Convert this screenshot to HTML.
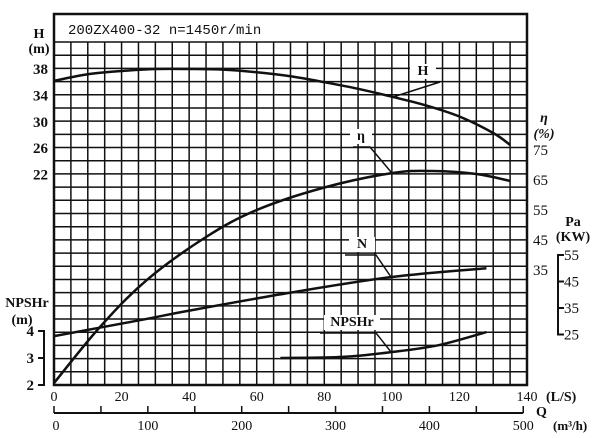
<!DOCTYPE html>
<html><head><meta charset="utf-8"><style>
body{margin:0;background:#fff}
svg text{font-family:"Liberation Serif",serif;font-weight:bold;fill:#111}
</style></head><body>
<svg width="600" height="433" viewBox="0 0 600 433">
<g id="grid"></g>
<g id="curves"></g>
<g id="labels"></g>
</svg>
<script>
const qTicks=[0,20,40,60,80,100,120,140];
const m3Ticks=[0,100,200,300,400,500];
const hTicks=[38,34,30,26,22];
const etaTicks=[75,65,55,45,35];
const paTicks=[55,45,35,25];
const npTicks=[4,3,2];
const hQ=[0,10,20,30,40,50,60,70,80,90,100,110,120,130,135];
const hVal=[36.2,37.2,37.7,38,38,37.9,37.5,36.9,36,35,33.8,32.5,30.8,28.3,26.5];
const etaQ=[0,13.6,27.5,45,60,80,100,112,125,135];
const etaVal=[-2.7,16,31.7,46,55,62.5,67.3,68,67,64.7];
const nQ=[0,25,40,70,100,128];
const nVal=[24.4,30.3,34,40.8,46.7,50];
const npQ=[67,85.5,100,114,128];
const npVal=[3.0,3.04,3.22,3.48,3.96];

const L=54,R=527,T=42,B=385,TOP=14;
const X=q=>L+q*(R-L)/140;
const YH=h=>69+(38-h)*6.6;
const YE=e=>150+(75-e)*3;
const YP=p=>255+(55-p)*2.65;
const YN=n=>385-(n-2)*27;
const NS="http://www.w3.org/2000/svg";
function mk(tag,attrs,parent,txt){const e=document.createElementNS(NS,tag);for(const k in attrs)e.setAttribute(k,attrs[k]);if(txt!=null)e.textContent=txt;parent.appendChild(e);return e;}
const g=document.getElementById('grid'),c=document.getElementById('curves'),lb=document.getElementById('labels');
for(let i=0;i<=28;i++){const x=L+i*(R-L)/28;const l=mk('line',{x1:x,y1:T,x2:x,y2:B,stroke:'#111','stroke-width':1.5},g);

}
for(let i=0;i<=26;i++){const y=T+i*(B-T)/26;const l=mk('line',{x1:L,y1:y,x2:R,y2:y,stroke:'#111','stroke-width':1.5},g);

}
const fr=mk('rect',{x:L,y:TOP,width:R-L,height:B-TOP,fill:'none',stroke:'#111','stroke-width':2.5},g);


const tb=mk('rect',{x:L+1.5,y:TOP+1.5,width:R-L-3,height:T-TOP-2.5,fill:'#fff'},g);


const tt=mk('text',{x:68,y:34,'font-size':14,style:'font-family:"Liberation Mono",monospace;font-weight:normal'},lb,'200ZX400-32  n=1450r/min');


function curve(qs,vs,yf,name){let d='';const pts=qs.map((q,i)=>[X(q),yf(vs[i])]);
d='M'+pts[0][0]+','+pts[0][1];
for(let i=0;i<pts.length-1;i++){const p0=pts[i-1]||pts[i],p1=pts[i],p2=pts[i+1],p3=pts[i+2]||p2;
d+=` C${p1[0]+(p2[0]-p0[0])/6},${p1[1]+(p2[1]-p0[1])/6} ${p2[0]-(p3[0]-p1[0])/6},${p2[1]-(p3[1]-p1[1])/6} ${p2[0]},${p2[1]}`;}
const p=mk('path',{d,fill:'none',stroke:'#111','stroke-width':2.5},c);

}
curve(hQ,hVal,YH,'head-curve');
curve(etaQ,etaVal,YE,'efficiency-curve');
curve(nQ,nVal,YP,'power-curve');
curve(npQ,npVal,YN,'npshr-curve');
function callout(text,tx,ty,w,lx1,lx2,px,py,name){
const r=mk('rect',{x:tx-w/2,y:ty-11,width:w,height:15,fill:'#fff'},lb);


const t=mk('text',{x:tx,y:ty,'font-size':14,'text-anchor':'middle'},lb,text);


const p=mk('polyline',{points:`${lx1},${ty+7} ${lx2},${ty+7} ${px},${py}`,fill:'none',stroke:'#111','stroke-width':1.5},lb);

}
callout('H',423,75,26,410,440,393,97,'head-label');
callout('η',361,140,22,353,370,391,172,'efficiency-label');
callout('N',362,248,26,345,376,391,277,'power-label');
callout('NPSHr',352,326,56,320,376,391,352,'npshr-label');
qTicks.forEach(q=>{const t=mk('text',{x:X(q),y:401,'font-size':14,'text-anchor':'middle',style:'font-weight:normal'},lb,q);

});
const ls=mk('text',{x:546,y:401,'font-size':14},lb,'(L/S)');


const XM=m=>L+(m/3.6)*(R-L)/140;
const ax=mk('line',{x1:L,y1:413,x2:XM(500),y2:413,stroke:'#111','stroke-width':2},lb);


for(let m=0;m<=500;m+=50){const l=mk('line',{x1:XM(m),y1:406,x2:XM(m),y2:413,stroke:'#111','stroke-width':1.5},lb);

}
m3Ticks.forEach(m=>{const t=mk('text',{x:XM(m)+(m==0?2:0),y:430,'font-size':14,'text-anchor':'middle',style:'font-weight:normal'},lb,m);

});
const qt=mk('text',{x:536,y:416,'font-size':14},lb,'Q');


const mu=mk('text',{x:553,y:430,'font-size':13},lb,'(m³/h)');


[['H',39,38],['(m)',39,53]].forEach(a=>{const t=mk('text',{x:a[1],y:a[2],'font-size':14,'text-anchor':'middle'},lb,a[0]);

});
hTicks.forEach(h=>{const t=mk('text',{x:48,y:YH(h)+5,'font-size':15,'text-anchor':'end'},lb,h);

});
[['η',544,122],['(%)',544,138]].forEach(a=>{const t=mk('text',{x:a[1],y:a[2],'font-size':14,'text-anchor':'middle',style:'font-style:italic'},lb,a[0]);

});
etaTicks.forEach(e=>{const t=mk('text',{x:533,y:YE(e)+5,'font-size':15,style:'font-weight:normal'},lb,e);

});
[['Pa',573,226],['(KW)',573,241]].forEach(a=>{const t=mk('text',{x:a[1],y:a[2],'font-size':14,'text-anchor':'middle'},lb,a[0]);

});
const pb=mk('polyline',{points:`${563},${YP(55)} 558,${YP(55)} 558,${YP(25)} 563,${YP(25)}`,fill:'none',stroke:'#111','stroke-width':2},lb);


paTicks.forEach(p=>{const l=mk('line',{x1:558,y1:YP(p),x2:564,y2:YP(p),stroke:'#111','stroke-width':2},lb);


const t=mk('text',{x:564,y:YP(p)+5,'font-size':15,style:'font-weight:normal'},lb,p);

});
[['NPSHr',27,307],['(m)',22,324]].forEach(a=>{const t=mk('text',{x:a[1],y:a[2],'font-size':14,'text-anchor':'middle'},lb,a[0]);

});
const nb=mk('polyline',{points:`38,${YN(4)} 44,${YN(4)} 44,${YN(2)} 38,${YN(2)}`,fill:'none',stroke:'#111','stroke-width':2},lb);


npTicks.forEach(n=>{const l=mk('line',{x1:38,y1:YN(n),x2:44,y2:YN(n),stroke:'#111','stroke-width':2},lb);


const t=mk('text',{x:34,y:YN(n)+5,'font-size':15,'text-anchor':'end'},lb,n);

});
</script>
</body></html>
